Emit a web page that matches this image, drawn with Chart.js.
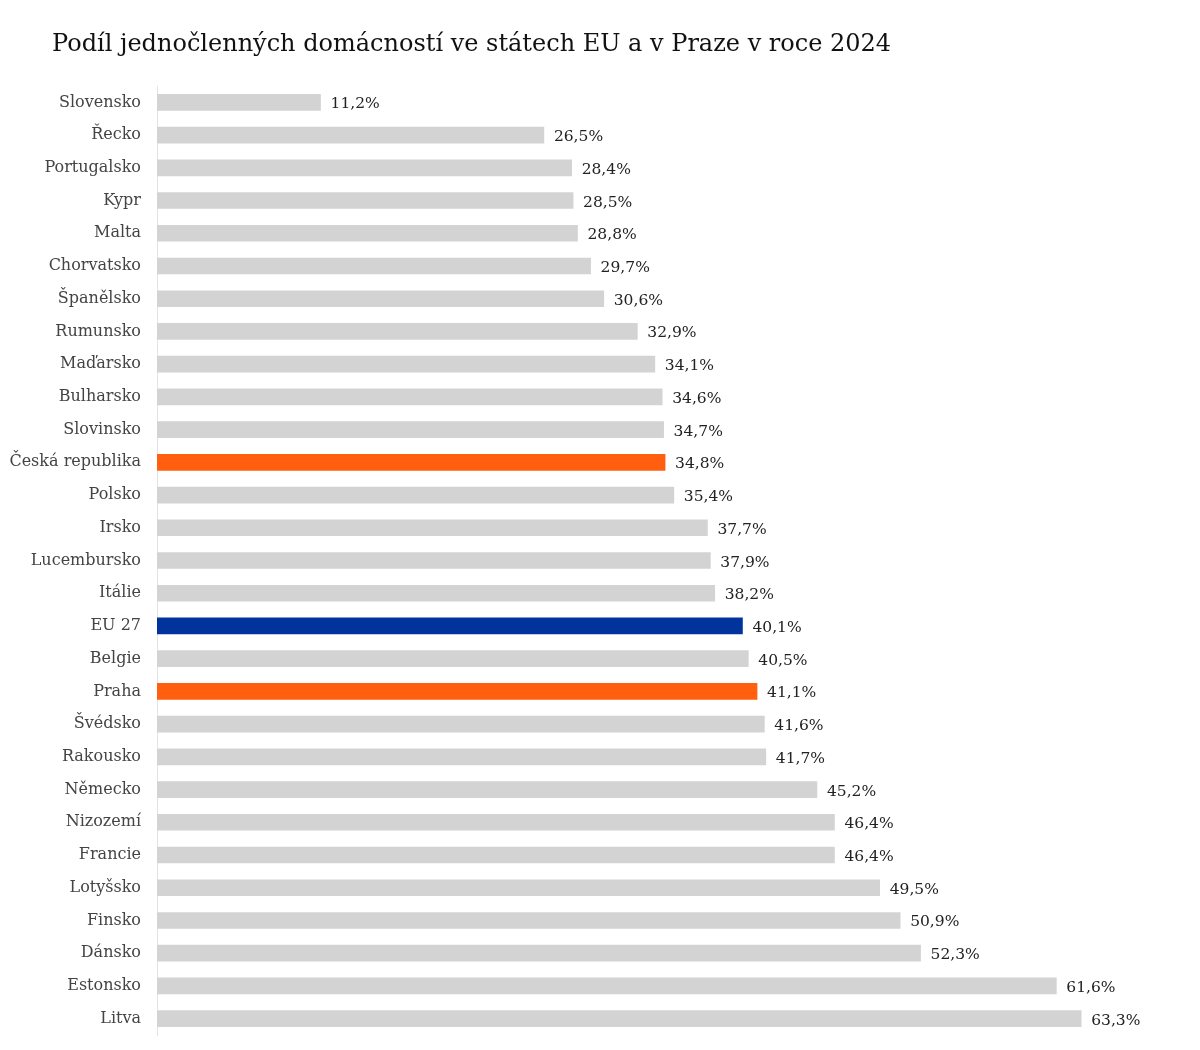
<!DOCTYPE html>
<html>

<head>
  <script src="https://cdn.jsdelivr.net/npm/chart.js@4"></script>
  <style>
    body { margin: 0; background: #fff; overflow: hidden; }
    #title {
      position: absolute; left: 52px; top: 29px;
      font-family: 'DejaVu Serif', serif; font-size: 24px; color: #111;
      white-space: nowrap;
    }
    canvas { display: block; }
  </style>
</head>

<body>
  <div id="title">Podíl jednočlenných domácností ve státech EU a v Praze v roce 2024</div>
  <canvas id="myChart" width="1200" height="1050"></canvas>
  <script type="text/javascript">
    // data
    var countries = ['Slovensko', 'Řecko', 'Portugalsko', 'Kypr', 'Malta', 'Chorvatsko', 'Španělsko',
      'Rumunsko', 'Maďarsko', 'Bulharsko', 'Slovinsko', 'Česká republika', 'Polsko', 'Irsko',
      'Lucembursko', 'Itálie', 'EU 27', 'Belgie', 'Praha', 'Švédsko', 'Rakousko', 'Německo',
      'Nizozemí', 'Francie', 'Lotyšsko', 'Finsko', 'Dánsko', 'Estonsko', 'Litva'];
    var shares = [11.2, 26.5, 28.4, 28.5, 28.8, 29.7, 30.6, 32.9, 34.1, 34.6, 34.7, 34.8, 35.4, 37.7,
      37.9, 38.2, 40.1, 40.5, 41.1, 41.6, 41.7, 45.2, 46.4, 46.4, 49.5, 50.9, 52.3, 61.6, 63.3];

    var orange = '#ff5f0f';
    var blue = '#00339c';
    var grey = '#d3d3d3';

    var barColors = countries.map(function(c) {
      if (c == 'EU 27') return blue;
      if (c == 'Česká republika' || c == 'Praha') return orange;
      return grey;
    });

    // value labels next to bars
    var valueLabels = {
      id: 'valueLabels',
      afterDatasetsDraw: function(chart) {
        var ctx = chart.ctx;
        var meta = chart.getDatasetMeta(0);
        ctx.save();
        ctx.font = '15.5px "DejaVu Serif", serif';
        ctx.fillStyle = '#222';
        ctx.textAlign = 'left';
        ctx.textBaseline = 'middle';
        meta.data.forEach(function(bar, i) {
          var txt = shares[i].toFixed(1).replace('.', ',') + '%';
          ctx.fillText(txt, bar.x + 10, bar.y + 2);
        });
        ctx.restore();
      }
    };

    var ctx = document.getElementById('myChart').getContext('2d');
    var chart = new Chart(ctx, {
      type: 'bar',
      data: {
        labels: countries,
        datasets: [{
          data: shares,
          backgroundColor: barColors,
          barThickness: 16,
        }]
      },
      options: {
        responsive: false,
        animation: false,
        events: [],
        layout: {
          padding: { top: 86, bottom: 15, left: 0, right: 21 }
        },
        plugins: {
          legend: { display: false },
          tooltip: { enabled: false }
        },
        indexAxis: 'y',
        scales: {
          x: {
            display: false,
            min: 0,
            max: 70
          },
          y: {
            // fixed width, and no extra top/bottom room for the labels
            afterFit: function(scale) {
              scale.width = 157;
              scale.paddingTop = 0;
              scale.paddingBottom = 0;
            },
            grid: { display: false, drawTicks: false },
            border: { display: true, color: '#e3e3e3', width: 1 },
            ticks: {
              padding: 16,
              color: '#444',
              font: { family: 'DejaVu Serif', size: 16 }
            }
          }
        }
      },
      plugins: [valueLabels]
    });
  </script>
</body>

</html>
